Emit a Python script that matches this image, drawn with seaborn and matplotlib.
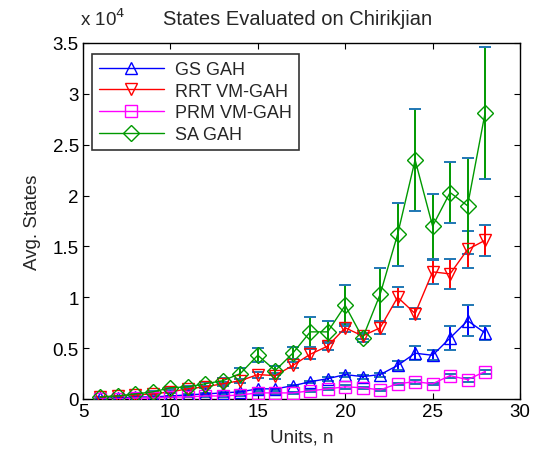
import matplotlib
matplotlib.use("Agg")
import matplotlib.pyplot as plt
import seaborn as sns
import numpy as np
import pandas as pd
from matplotlib.ticker import FuncFormatter

sns.set_style("white")
plt.rcParams['font.family'] = ['Liberation Sans', 'DejaVu Sans']

n = list(range(6, 29))
gs_mean = [0.01, 0.01, 0.02, 0.02, 0.03, 0.04, 0.05, 0.06, 0.07, 0.10, 0.10, 0.13, 0.17, 0.20, 0.24, 0.22, 0.24, 0.33, 0.45, 0.43, 0.60, 0.77, 0.65]
gs_err = [0.00, 0.00, 0.00, 0.00, 0.00, 0.01, 0.01, 0.01, 0.01, 0.01, 0.01, 0.01, 0.01, 0.02, 0.02, 0.02, 0.02, 0.04, 0.07, 0.05, 0.12, 0.15, 0.07]
rrt_mean = [0.02, 0.03, 0.04, 0.05, 0.07, 0.10, 0.12, 0.15, 0.18, 0.24, 0.23, 0.33, 0.44, 0.52, 0.70, 0.62, 0.70, 1.00, 0.84, 1.25, 1.23, 1.47, 1.56]
rrt_err = [0.00, 0.00, 0.01, 0.01, 0.01, 0.01, 0.01, 0.02, 0.02, 0.03, 0.03, 0.03, 0.05, 0.04, 0.04, 0.03, 0.06, 0.10, 0.05, 0.12, 0.15, 0.18, 0.15]
prm_mean = [0.00, 0.00, 0.01, 0.01, 0.02, 0.02, 0.03, 0.03, 0.04, 0.06, 0.06, 0.06, 0.08, 0.10, 0.12, 0.11, 0.09, 0.15, 0.17, 0.15, 0.23, 0.19, 0.27]
prm_err = [0.00, 0.00, 0.00, 0.00, 0.00, 0.00, 0.01, 0.01, 0.01, 0.01, 0.01, 0.01, 0.01, 0.01, 0.02, 0.01, 0.01, 0.01, 0.02, 0.01, 0.02, 0.02, 0.02]
sa_mean = [0.02, 0.03, 0.05, 0.07, 0.11, 0.12, 0.15, 0.18, 0.25, 0.43, 0.28, 0.45, 0.66, 0.66, 0.92, 0.60, 1.03, 1.62, 2.35, 1.70, 2.03, 1.90, 2.81]
sa_err = [0.00, 0.00, 0.01, 0.01, 0.01, 0.01, 0.02, 0.03, 0.05, 0.07, 0.04, 0.06, 0.15, 0.11, 0.20, 0.04, 0.26, 0.31, 0.50, 0.32, 0.30, 0.47, 0.65]

labels = ["GS GAH", "RRT VM-GAH", "PRM VM-GAH", "SA GAH"]
colors = ["#0000ff", "#ff0000", "#ff00ff", "#009900"]
markers = ["^", "v", "s", "D"]
means = [gs_mean, rrt_mean, prm_mean, sa_mean]
errs = [gs_err, rrt_err, prm_err, sa_err]

scale = 1e4
frames = []
for lab, m in zip(labels, means):
    frames.append(pd.DataFrame({"n": n, "states": np.array(m) * scale, "method": lab}))
df = pd.concat(frames, ignore_index=True)

fig = plt.figure(figsize=(5.33, 4.6), dpi=100)
ax = fig.add_axes([83/533, 1 - 400/460, (520-83)/533, (400-44)/460])

for lab, m, e, c in zip(labels, means, errs, colors):
    ax.errorbar(n, np.array(m) * scale, yerr=np.array(e) * scale, fmt='none',
                ecolor=c, elinewidth=1.4, capsize=4.5, capthick=1.4, zorder=2)

sns.lineplot(data=df, x="n", y="states", hue="method", style="method",
             palette=dict(zip(labels, colors)), markers=dict(zip(labels, markers)),
             dashes=False, ax=ax, linewidth=1.0, markersize=8.5,
             markerfacecolor='none', markeredgewidth=1.0, zorder=3)
for line in ax.lines:
    line.set_markerfacecolor('none')
    line.set_markeredgecolor(line.get_color())

ax.set_xlim(5, 30)
ax.set_ylim(0, 3.5e4)
ax.set_xticks([5, 10, 15, 20, 25, 30])
ax.set_yticks(np.arange(0, 3.51e4, 0.5e4))
ax.yaxis.set_major_formatter(FuncFormatter(lambda v, p: f"{v/scale:g}"))
ax.tick_params(axis='both', direction='in', length=4, labelsize=13.5, colors='black',
               top=True, right=True, bottom=True, left=True, pad=3)
for s in ax.spines.values():
    s.set_color('black')
    s.set_linewidth(1.0)

ax.set_xlabel("Units, n", fontsize=13.5, labelpad=6)
ax.set_ylabel("Avg. States", fontsize=13.5, labelpad=8)
ax.set_title("States Evaluated on Chirikjian", fontsize=14.5, pad=14, x=0.49)
fig.text(80/533, 1 - 30/460, r"x 10$^4$", fontsize=13.5, ha='left', va='bottom')

handles, lbls = ax.get_legend_handles_labels()
leg = ax.legend(handles, lbls, loc='upper left', bbox_to_anchor=(0.02, 0.97),
                frameon=True, fancybox=False, edgecolor='black', fontsize=13,
                handlelength=3.6, handletextpad=0.6, borderpad=0.4, labelspacing=0.26,
                borderaxespad=0.0)
leg.get_frame().set_linewidth(1.2)
for h in leg.legend_handles:
    h.set_markerfacecolor('none')

fig.savefig("out.png", dpi=100)
